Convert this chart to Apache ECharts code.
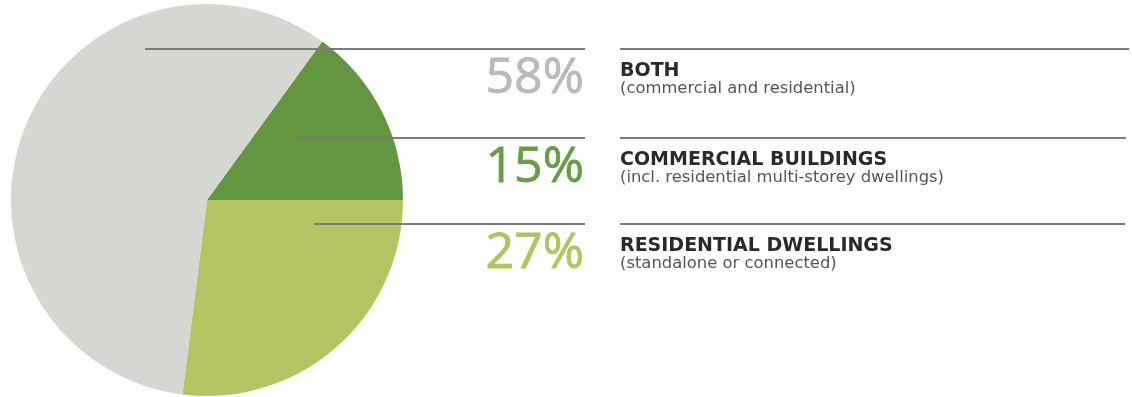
<!DOCTYPE html>
<html>
<head>
<meta charset="utf-8">
<script src="https://cdn.jsdelivr.net/npm/echarts@6/dist/echarts.min.js"></script>
<style>
  html, body { margin: 0; padding: 0; background: #ffffff; }
  #chart { width: 1132px; height: 397px; }
</style>
</head>
<body>
<div id="chart"></div>
<script>
// Share of buildings by type (percent)
const categories = ['COMMERCIAL BUILDINGS', 'RESIDENTIAL DWELLINGS', 'BOTH'];
const values = [15, 27, 58];
const subtitles = [
  '(incl. residential multi-storey dwellings)',
  '(standalone or connected)',
  '(commercial and residential)'
];
const sliceColors = ['#63963f', '#b5c462', '#d5d8d2'];
const percentColors = ['#6a9c48', '#b3c35f', '#b9bcb6'];
// Legend rows are listed top to bottom: BOTH, COMMERCIAL, RESIDENTIAL
const rowOrder = [2, 0, 1];

const chart = echarts.init(document.getElementById('chart'), null, { renderer: 'canvas' });

const rowTop = [49, 138, 224];      // y of each row's rule
const leaderStart = [145, 294, 314]; // where each rule begins inside the pie
const rightEnd = [1129, 1126, 1125];

const graphics = [];
rowOrder.forEach((idx, r) => {
  const y = rowTop[r];
  graphics.push({
    type: 'line', silent: true, z: 10,
    shape: { x1: leaderStart[r], y1: y, x2: 585, y2: y },
    style: { stroke: '#7b7b7b', lineWidth: 2 }
  });
  graphics.push({
    type: 'line', silent: true, z: 10,
    shape: { x1: 620, y1: y, x2: rightEnd[r], y2: y },
    style: { stroke: '#7b7b7b', lineWidth: 2 }
  });
  graphics.push({
    type: 'text', silent: true, z: 10,
    x: 584, y: y + 5,
    style: {
      text: values[idx] + '%',
      font: '400 50px "Open Sans"',
      fill: percentColors[idx],
      stroke: percentColors[idx],
      lineWidth: 0.8,
      align: 'right', verticalAlign: 'top'
    }
  });
  graphics.push({
    type: 'text', silent: true, z: 10,
    x: 620, y: y + 13,
    style: {
      text: categories[idx],
      font: 'bold 19px "DejaVu Sans"',
      fill: '#2a2a2a',
      align: 'left', verticalAlign: 'top'
    }
  });
  graphics.push({
    type: 'text', silent: true, z: 10,
    x: 620, y: y + 32,
    style: {
      text: subtitles[idx],
      font: '400 16.4px "DejaVu Sans"',
      fill: '#555555',
      align: 'left', verticalAlign: 'top'
    }
  });
});

chart.setOption({
  animation: false,
  backgroundColor: '#ffffff',
  series: [{
    type: 'pie',
    center: [207, 200],
    radius: 196,
    startAngle: 54,
    clockwise: true,
    silent: true,
    label: { show: false },
    labelLine: { show: false },
    itemStyle: { borderWidth: 0 },
    data: categories.map((c, i) => ({
      name: c, value: values[i], itemStyle: { color: sliceColors[i] }
    }))
  }],
  graphic: graphics
});
</script>
</body>
</html>
